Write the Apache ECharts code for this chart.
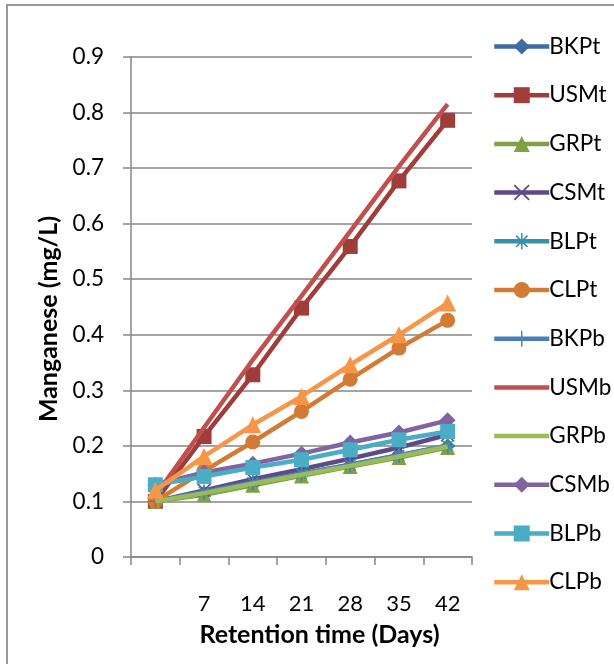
<!DOCTYPE html>
<html>
<head>
<meta charset="utf-8">
<script src="https://cdn.jsdelivr.net/npm/echarts@6/dist/echarts.min.js"></script>
<style>
  html, body { margin: 0; padding: 0; background: #fff; }
  #chart { width: 614px; height: 664px; }
</style>
</head>
<body>
<div id="chart"></div>
<script>
// Retention time in days (first sampling point is unlabelled day 0)
var days = ['', '7', '14', '21', '28', '35', '42'];

// Manganese concentration (mg/L) per treatment
var BKPt = [0.100, 0.115, 0.133, 0.149, 0.165, 0.182, 0.200];
var USMt = [0.100, 0.217, 0.328, 0.448, 0.559, 0.677, 0.786];
var GRPt = [0.100, 0.112, 0.129, 0.146, 0.163, 0.179, 0.197];
var CSMt = [0.100, 0.120, 0.140, 0.158, 0.177, 0.197, 0.220];
var BLPt = [0.100, 0.117, 0.134, 0.150, 0.166, 0.183, 0.200];
var CLPt = [0.100, 0.155, 0.207, 0.262, 0.320, 0.376, 0.426];
var BKPb = [0.100, 0.116, 0.134, 0.150, 0.166, 0.183, 0.201];
var USMb = [0.110, 0.233, 0.355, 0.470, 0.586, 0.703, 0.815];
var GRPb = [0.100, 0.115, 0.132, 0.148, 0.164, 0.181, 0.199];
var CSMb = [0.130, 0.152, 0.168, 0.186, 0.206, 0.224, 0.246];
var BLPb = [0.130, 0.145, 0.161, 0.175, 0.193, 0.211, 0.226];
var CLPb = [0.120, 0.181, 0.238, 0.289, 0.346, 0.400, 0.457];

var yTicks = [0, 0.1, 0.2, 0.3, 0.4, 0.5, 0.6, 0.7, 0.8, 0.9];

// marker shapes that ECharts has no builtin for
var xMark = 'path://M-9,-7.6 L-7.6,-9 L0,-1.4 L7.6,-9 L9,-7.6 L1.4,0 L9,7.6 L7.6,9 L0,1.4 L-7.6,9 L-9,7.6 L-1.4,0 Z';
var plusMark = 'path://M-0.9,-10 L0.9,-10 L0.9,-0.9 L10,-0.9 L10,0.9 L0.9,0.9 L0.9,10 L-0.9,10 L-0.9,0.9 L-10,0.9 L-10,-0.9 L-0.9,-0.9 Z';
var starMark = 'path://M-1,-10 L1,-10 L1,-1 L10,-1 L10,1 L1,1 L1,10 L-1,10 L-1,1 L-10,1 L-10,-1 L-1,-1 Z M-7.8,-6.4 L-6.4,-7.8 L0,-1.4 L6.4,-7.8 L7.8,-6.4 L1.4,0 L7.8,6.4 L6.4,7.8 L0,1.4 L-6.4,7.8 L-7.8,6.4 L-1.4,0 Z';
// plain line swatch for series drawn without markers
var barIcon = 'path://M0,0 L55,0 L55,4.5 L0,4.5 Z';

var seriesDefs = [
  { name: 'BKPt', data: BKPt, color: '#3D6BA6', symbol: 'diamond', size: 15 },
  { name: 'USMt', data: USMt, color: '#A03D3A', symbol: 'rect', size: 15 },
  { name: 'GRPt', data: GRPt, color: '#7FA044', symbol: 'triangle', size: 15 },
  { name: 'CSMt', data: CSMt, color: '#5F4A88', symbol: xMark, size: 14 },
  { name: 'BLPt', data: BLPt, color: '#3791AA', symbol: starMark, size: 15 },
  { name: 'CLPt', data: CLPt, color: '#D27B34', symbol: 'circle', size: 15 },
  { name: 'BKPb', data: BKPb, color: '#4A7EBB', symbol: plusMark, size: 15 },
  { name: 'USMb', data: USMb, color: '#C0504D', symbol: 'none', size: 0 },
  { name: 'GRPb', data: GRPb, color: '#9BBB59', symbol: 'none', size: 0 },
  { name: 'CSMb', data: CSMb, color: '#8064A2', symbol: 'diamond', size: 16 },
  { name: 'BLPb', data: BLPb, color: '#4BACC6', symbol: 'rect', size: 15 },
  { name: 'CLPb', data: CLPb, color: '#F79646', symbol: 'triangle', size: 17 }
];

var series = seriesDefs.map(function (s, i) {
  return {
    name: s.name,
    type: 'line',
    data: s.data,
    z: 2 + i,
    symbol: s.symbol,
    symbolSize: s.size,
    showSymbol: s.symbol !== 'none',
    lineStyle: { color: s.color, width: 4.5 },
    itemStyle: { color: s.color, borderWidth: 0 },
    emphasis: { disabled: true },
    animation: false
  };
});

var legendData = seriesDefs.map(function (s) {
  return s.symbol === 'none' ? { name: s.name, icon: barIcon, itemStyle: { color: s.color } } : { name: s.name };
});

var chart = echarts.init(document.getElementById('chart'), null, { renderer: 'canvas' });
chart.setOption({
  backgroundColor: '#ffffff',
  animation: false,
  textStyle: { fontFamily: 'Lato, "Liberation Sans", sans-serif' },
  graphic: [{
    type: 'polyline',
    shape: { points: [[7, 700], [7, 5], [700, 5]] },
    style: { stroke: '#9a9a9a', lineWidth: 2, fill: null },
    silent: true
  }],
  grid: { left: 131, right: 142, top: 57, bottom: 107, containLabel: false },
  legend: {
    orient: 'vertical',
    left: 487,
    top: 30,
    itemWidth: 55,
    itemHeight: 20,
    itemGap: 25.7,
    lineStyle: { width: 4.5 },
    textStyle: { fontSize: 22.5, color: '#000', lineHeight: 20, padding: [0, 0, 0, -5] },
    data: legendData
  },
  xAxis: {
    type: 'category',
    data: days,
    boundaryGap: true,
    name: 'Retention time (Days)',
    nameLocation: 'middle',
    nameGap: 65,
    nameTextStyle: { fontSize: 25, fontWeight: 'bold', color: '#000', padding: [0, 0, 0, 36] },
    axisLine: { lineStyle: { color: '#868686', width: 1.5 } },
    axisTick: { show: true, length: 8, alignWithLabel: false, lineStyle: { color: '#868686', width: 1.5 } },
    axisLabel: { fontSize: 22, color: '#000', margin: 36 },
    splitLine: { show: false }
  },
  yAxis: {
    type: 'value',
    min: yTicks[0],
    max: yTicks[yTicks.length - 1],
    interval: 0.1,
    name: 'Manganese (mg/L)',
    nameLocation: 'middle',
    nameGap: 70,
    nameRotate: 90,
    nameTextStyle: { fontSize: 25, fontWeight: 'bold', color: '#000', padding: [0, 24, 0, 0] },
    axisLine: { show: true, lineStyle: { color: '#868686', width: 1.5 } },
    axisTick: { show: true, length: 8, lineStyle: { color: '#868686', width: 1.5 } },
    axisLabel: {
      fontSize: 22.5, color: '#000', margin: 27,
      formatter: function (v) { return String(Math.round(v * 10) / 10); }
    },
    splitLine: { show: true, lineStyle: { color: '#868686', width: 1.5 } }
  },
  series: series
});
</script>
</body>
</html>
